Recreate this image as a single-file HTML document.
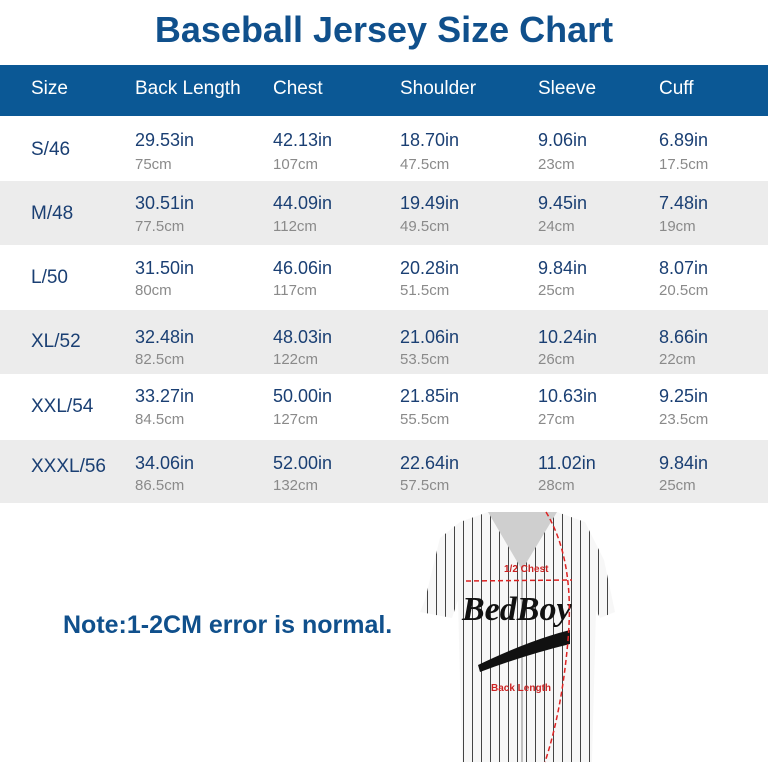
<!DOCTYPE html>
<html><head><meta charset="utf-8"><style>
body{margin:0;width:768px;height:768px;background:#fff;font-family:"Liberation Sans",Arial,sans-serif;position:relative;overflow:hidden}
.t{position:absolute;left:0;width:768px;top:9px;text-align:center;font-weight:bold;font-size:36px;color:#10508c}
.hd{position:absolute;left:0;top:65px;width:768px;height:51px;background:#0b5895}
.r{position:absolute;left:0;width:768px}
.g{background:#ececec}
.c{position:absolute;white-space:nowrap}
.h{color:#fff;font-size:19px;top:78px}
.sz{font-size:19px;color:#1a3f73}
.in{font-size:18px;color:#1a3f73}
.cm{font-size:15px;color:#8a8a8a}
.note{position:absolute;left:63px;top:611px;font-weight:bold;font-size:25px;color:#10508c}
</style></head><body>
<div class="t">Baseball Jersey Size Chart</div>
<div class="hd"></div>
<div class="c h" style="left:31px">Size</div>
<div class="c h" style="left:135px">Back Length</div>
<div class="c h" style="left:273px">Chest</div>
<div class="c h" style="left:400px">Shoulder</div>
<div class="c h" style="left:538px">Sleeve</div>
<div class="c h" style="left:659px">Cuff</div>
<div class="r g" style="top:181px;height:64px"></div>
<div class="r g" style="top:310px;height:64px"></div>
<div class="r g" style="top:440px;height:63px"></div>
<div class="c sz" style="left:31px;top:139px">S/46</div>
<div class="c sz" style="left:31px;top:203px">M/48</div>
<div class="c sz" style="left:31px;top:267px">L/50</div>
<div class="c sz" style="left:31px;top:331px">XL/52</div>
<div class="c sz" style="left:31px;top:396px">XXL/54</div>
<div class="c sz" style="left:31px;top:456px">XXXL/56</div>

<div class="c in" style="left:135px;top:130px">29.53in</div><div class="c cm" style="left:135px;top:156px">75cm</div>
<div class="c in" style="left:273px;top:130px">42.13in</div><div class="c cm" style="left:273px;top:156px">107cm</div>
<div class="c in" style="left:400px;top:130px">18.70in</div><div class="c cm" style="left:400px;top:156px">47.5cm</div>
<div class="c in" style="left:538px;top:130px">9.06in</div><div class="c cm" style="left:538px;top:156px">23cm</div>
<div class="c in" style="left:659px;top:130px">6.89in</div><div class="c cm" style="left:659px;top:156px">17.5cm</div>

<div class="c in" style="left:135px;top:193px">30.51in</div><div class="c cm" style="left:135px;top:218px">77.5cm</div>
<div class="c in" style="left:273px;top:193px">44.09in</div><div class="c cm" style="left:273px;top:218px">112cm</div>
<div class="c in" style="left:400px;top:193px">19.49in</div><div class="c cm" style="left:400px;top:218px">49.5cm</div>
<div class="c in" style="left:538px;top:193px">9.45in</div><div class="c cm" style="left:538px;top:218px">24cm</div>
<div class="c in" style="left:659px;top:193px">7.48in</div><div class="c cm" style="left:659px;top:218px">19cm</div>

<div class="c in" style="left:135px;top:258px">31.50in</div><div class="c cm" style="left:135px;top:282px">80cm</div>
<div class="c in" style="left:273px;top:258px">46.06in</div><div class="c cm" style="left:273px;top:282px">117cm</div>
<div class="c in" style="left:400px;top:258px">20.28in</div><div class="c cm" style="left:400px;top:282px">51.5cm</div>
<div class="c in" style="left:538px;top:258px">9.84in</div><div class="c cm" style="left:538px;top:282px">25cm</div>
<div class="c in" style="left:659px;top:258px">8.07in</div><div class="c cm" style="left:659px;top:282px">20.5cm</div>

<div class="c in" style="left:135px;top:327px">32.48in</div><div class="c cm" style="left:135px;top:351px">82.5cm</div>
<div class="c in" style="left:273px;top:327px">48.03in</div><div class="c cm" style="left:273px;top:351px">122cm</div>
<div class="c in" style="left:400px;top:327px">21.06in</div><div class="c cm" style="left:400px;top:351px">53.5cm</div>
<div class="c in" style="left:538px;top:327px">10.24in</div><div class="c cm" style="left:538px;top:351px">26cm</div>
<div class="c in" style="left:659px;top:327px">8.66in</div><div class="c cm" style="left:659px;top:351px">22cm</div>

<div class="c in" style="left:135px;top:386px">33.27in</div><div class="c cm" style="left:135px;top:411px">84.5cm</div>
<div class="c in" style="left:273px;top:386px">50.00in</div><div class="c cm" style="left:273px;top:411px">127cm</div>
<div class="c in" style="left:400px;top:386px">21.85in</div><div class="c cm" style="left:400px;top:411px">55.5cm</div>
<div class="c in" style="left:538px;top:386px">10.63in</div><div class="c cm" style="left:538px;top:411px">27cm</div>
<div class="c in" style="left:659px;top:386px">9.25in</div><div class="c cm" style="left:659px;top:411px">23.5cm</div>

<div class="c in" style="left:135px;top:453px">34.06in</div><div class="c cm" style="left:135px;top:477px">86.5cm</div>
<div class="c in" style="left:273px;top:453px">52.00in</div><div class="c cm" style="left:273px;top:477px">132cm</div>
<div class="c in" style="left:400px;top:453px">22.64in</div><div class="c cm" style="left:400px;top:477px">57.5cm</div>
<div class="c in" style="left:538px;top:453px">11.02in</div><div class="c cm" style="left:538px;top:477px">28cm</div>
<div class="c in" style="left:659px;top:453px">9.84in</div><div class="c cm" style="left:659px;top:477px">25cm</div>

<div class="note">Note:1-2CM error is normal.</div>

<svg style="position:absolute;left:0;top:0" width="768" height="768">
<defs>
<pattern id="st" width="9" height="20" patternUnits="userSpaceOnUse"><rect width="9" height="20" fill="#f7f7f7"/><rect x="4" width="1" height="20" fill="#444"/></pattern>
<clipPath id="cp"><path d="M488 512 L460 522 L440 538 L425 600 L420 612 L452 618 L458 600 L462 762 L592 762 L596 610 L600 618 L615 612 L604 560 L585 522 L557 512 Z"/></clipPath>
</defs>
<g clip-path="url(#cp)"><rect x="410" y="505" width="210" height="263" fill="url(#st)"/></g>
<path d="M488 512 L522 570 L557 512 Z" fill="#cfcfcf"/>
<line x1="522" y1="570" x2="522" y2="762" stroke="#888" stroke-width="1"/>
<text x="462" y="620" font-family="Liberation Serif,serif" font-style="italic" font-weight="bold" font-size="34" fill="#111">BedBoy</text>
<path d="M478 665 Q530 640 570 630 L570 644 Q525 655 480 672 Z" fill="#111"/>
<line x1="466" y1="581" x2="572" y2="580" stroke="#d22" stroke-width="1.5" stroke-dasharray="5,3"/>
<path d="M546 512 Q575 560 568 640 Q562 710 545 762" fill="none" stroke="#d22" stroke-width="1.5" stroke-dasharray="5,3"/>
<text x="504" y="572" font-size="10" font-weight="bold" fill="#c22" font-family="Liberation Sans,sans-serif">1/2 Chest</text>
<text x="491" y="691" font-size="10" font-weight="bold" fill="#c22" font-family="Liberation Sans,sans-serif">Back Length</text>
</svg>
</body></html>
